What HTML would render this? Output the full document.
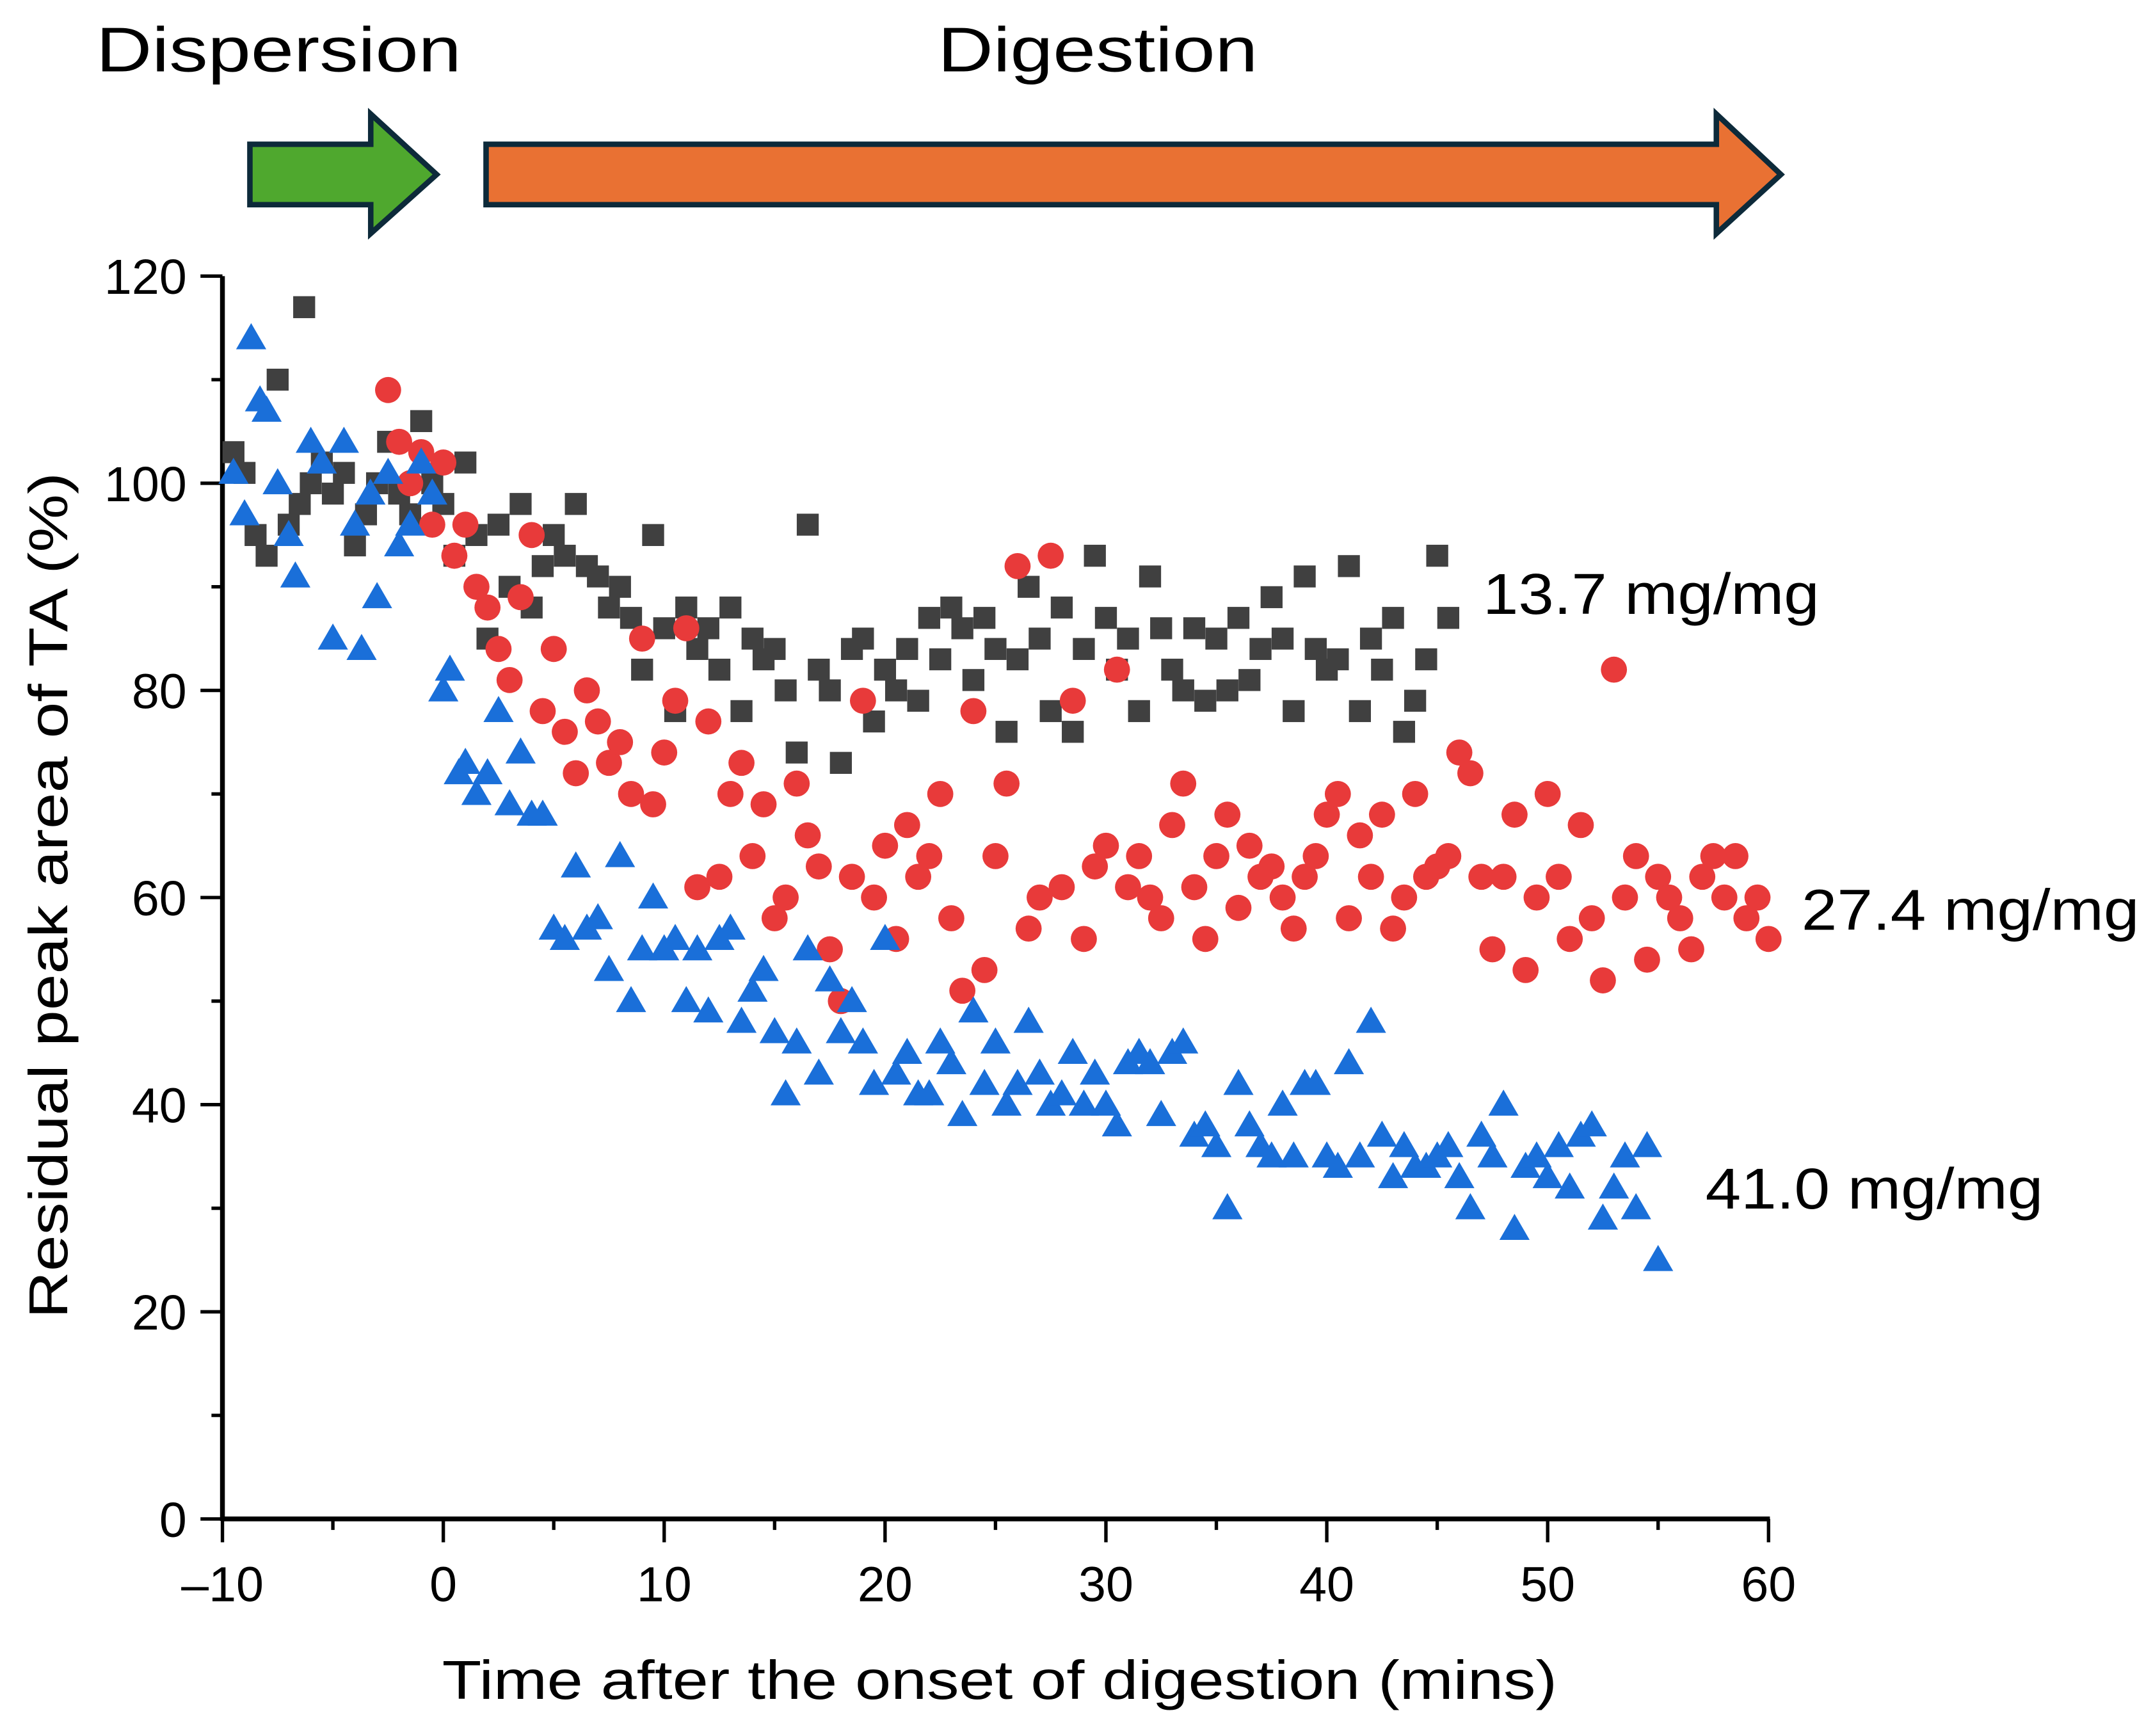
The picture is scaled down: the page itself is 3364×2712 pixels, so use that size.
<!DOCTYPE html>
<html><head><meta charset="utf-8"><style>
html,body{margin:0;padding:0;background:#fff}
svg{display:block}
text{font-family:"Liberation Sans",Arial,sans-serif;fill:#000}
</style></head><body>
<svg id="chart" width="3364" height="2712" viewBox="0 0 1568 1264" xmlns="http://www.w3.org/2000/svg">
<rect width="1568" height="1264" fill="#fff"/>
<text x="70" y="52" font-size="46" textLength="266" lengthAdjust="spacingAndGlyphs">Dispersion</text>
<text x="683" y="52" font-size="46" textLength="233" lengthAdjust="spacingAndGlyphs">Digestion</text>
<polygon points="182,105 270,105 270,83 318,127 270,170 270,149 182,149" fill="#4fa82e" stroke="#0d2a3a" stroke-width="4" stroke-linejoin="miter"/>
<polygon points="354,105 1250,105 1250,83 1297,127 1250,170 1250,149 354,149" fill="#e97133" stroke="#0d2a3a" stroke-width="4"/>
<g id="axes"></g>
<g id="marks"></g>
<text x="728" y="1237" font-size="40" text-anchor="middle" textLength="812" lengthAdjust="spacingAndGlyphs">Time after the onset of digestion (mins)</text>
<text transform="translate(49,652) rotate(-90)" font-size="40" text-anchor="middle" textLength="616" lengthAdjust="spacingAndGlyphs">Residual peak area of TA (%)</text>
<text x="1080" y="447" font-size="42" textLength="245" lengthAdjust="spacingAndGlyphs">13.7 mg/mg</text>
<text x="1312" y="677" font-size="42" textLength="246" lengthAdjust="spacingAndGlyphs">27.4 mg/mg</text>
<text x="1242" y="880" font-size="42" textLength="246" lengthAdjust="spacingAndGlyphs">41.0 mg/mg</text>
</svg>
<script>
const xTicks=[-10,0,10,20,30,40,50,60];
const xTickLabels=["\u201310","0","10","20","30","40","50","60"];
const yTicks=[0,20,40,60,80,100,120];
const blackX=[-9.5,-9,-8.5,-8,-7.5,-7,-6.5,-6.3,-6,-5.5,-5,-4.5,-4,-3.5,-3,-2.5,-2,-1.5,-1,-0.5,0,0.5,1,1.5,2,2.5,3,3.5,4,4.5,5,5.5,6,6.5,7,7.5,8,8.5,9,9.5,10,10.5,11,11.5,12,12.5,13,13.5,14,14.5,15,15.5,16,16.5,17,17.5,18,18.5,19,19.5,20,20.5,21,21.5,22,22.5,23,23.5,24,24.5,25,25.5,26,26.5,27,27.5,28,28.5,29,29.5,30,30.5,31,31.5,32,32.5,33,33.5,34,34.5,35,35.5,36,36.5,37,37.5,38,38.5,39,39.5,40,40.5,41,41.5,42,42.5,43,43.5,44,44.5,45,45.5];
const blackY=[103,101,95,93,110,96,98,117,100,102,99,101,94,97,100,104,99,97,106,100,98,93,102,95,85,96,90,98,88,92,95,93,98,92,91,88,90,87,82,95,86,78,88,84,86,82,88,78,85,83,84,80,74,96,82,80,73,84,85,77,82,80,84,79,87,83,88,86,81,87,84,76,83,90,85,78,88,76,84,93,87,82,85,78,91,86,82,80,86,79,85,80,87,81,84,89,85,78,91,84,82,83,92,78,85,82,87,76,79,83,93,87];
const redX=[-2.5,-2,-1.5,-1,-0.5,0,0.5,1,1.5,2,2.5,3,3.5,4,4.5,5,5.5,6,6.5,7,7.5,8,8.5,9,9.5,10,10.5,11,11.5,12,12.5,13,13.5,14,14.5,15,15.5,16,16.5,17,17.5,18,18.5,19,19.5,20,20.5,21,21.5,22,22.5,23,23.5,24,24.5,25,25.5,26,26.5,27,27.5,28,28.5,29,29.5,30,30.5,31,31.5,32,32.5,33,33.5,34,34.5,35,35.5,36,36.5,37,37.5,38,38.5,39,39.5,40,40.5,41,41.5,42,42.5,43,43.5,44,44.5,45,45.5,46,46.5,47,47.5,48,48.5,49,49.5,50,50.5,51,51.5,52,52.5,53,53.5,54,54.5,55,55.5,56,56.5,57,57.5,58,58.5,59,59.5,60];
const redY=[109,104,100,103,96,102,93,96,90,88,84,81,89,95,78,84,76,72,80,77,73,75,70,85,69,74,79,86,61,77,62,70,73,64,69,58,60,71,66,63,55,50,62,79,60,65,56,67,62,64,70,58,51,78,53,64,71,92,57,60,93,61,79,56,63,65,82,61,64,60,58,67,71,61,56,64,68,59,65,62,63,60,57,62,64,68,70,58,66,62,68,57,60,70,62,63,64,74,72,62,55,62,68,53,60,70,62,56,67,58,52,82,60,64,54,62,60,58,55,62,64,60,64,58,60,56];
const blueX=[-9.5,-9,-8.7,-8.3,-8,-7.5,-7,-6.7,-6,-5.5,-5,-4.5,-4,-3.7,-3.3,-3,-2.5,-2,-1.5,-1,-0.5,0,0.3,0.7,1,1.5,2,2.5,3,3.5,4,4.5,5,5.5,6,6.5,7,7.5,8,8.5,9,9.5,10,10.5,11,11.5,12,12.5,13,13.5,14,14.5,15,15.5,16,16.5,17,17.5,18,18.5,19,19.5,20,20.5,21,21.5,22,22.5,23,23.5,24,24.5,25,25.5,26,26.5,27,27.5,28,28.5,29,29.5,30,30.5,31,31.5,32,32.5,33,33.5,34,34.5,35,35.5,36,36.5,37,37.5,38,38.5,39,39.5,40,40.5,41,41.5,42,42.5,43,43.5,44,44.5,45,45.5,46,46.5,47,47.5,48,48.5,49,49.5,50,50.5,51,51.5,52,52.5,53,53.5,54,54.5,55];
const blueY=[101,97,114,108,107,100,95,91,104,102,85,104,96,84,99,89,101,94,96,102,99,80,82,72,73,70,72,78,69,74,68,68,57,56,63,57,58,53,64,50,55,60,55,56,50,55,49,56,57,48,51,53,47,41,46,55,43,52,47,50,46,42,56,43,45,41,41,46,44,39,49,42,46,40,42,48,43,40,41,45,40,43,40,38,44,45,44,39,45,46,37,38,36,30,42,38,36,35,40,35,42,42,35,34,44,35,48,37,33,36,34,34,35,36,33,30,37,35,40,28,34,35,33,36,32,37,38,29,32,35,30,36,25];
const NS="http://www.w3.org/2000/svg";
const X0=162,X1=1288,Y0=1106,Y1=201;
function sx(t){return X0+(t+10)*(X1-X0)/70;}
function sy(v){return Y0-v*(Y0-Y1)/120;}
function mk(tag,attrs,parent){const e=document.createElementNS(NS,tag);for(const k in attrs)e.setAttribute(k,attrs[k]);parent.appendChild(e);return e;}
const axes=document.getElementById('axes');
const marks=document.getElementById('marks');
for(let v=0;v<=120;v+=10){
  const major=v%20===0;
  const t=mk('line',{x1:major?146:154,x2:X0,y1:sy(v),y2:sy(v),stroke:'#000','stroke-width':2.5},axes);
  
  
}
yTicks.forEach(v=>{
  const l=mk('text',{x:136,y:sy(v)+13,'font-size':36,'text-anchor':'end'},axes);
  l.textContent=String(v);
  
  
});
for(let t=-10;t<=60;t+=5){
  const major=t%10===0;
  const tk=mk('line',{x1:sx(t),x2:sx(t),y1:Y0,y2:major?1123:1114,stroke:'#000','stroke-width':2.5},axes);
  
  
}
xTicks.forEach((t,i)=>{
  const l=mk('text',{x:sx(t),y:1166,'font-size':36,'text-anchor':'middle'},axes);
  l.textContent=xTickLabels[i];
  
  
});
const ya=mk('line',{x1:X0,x2:X0,y1:Y1,y2:Y0+1.5,stroke:'#000','stroke-width':3.5},axes);


const xa=mk('line',{x1:X0,x2:X1+1,y1:Y0,y2:Y0,stroke:'#000','stroke-width':3.5},axes);


blackX.forEach((t,i)=>{
  const e=mk('rect',{x:sx(t)-8,y:sy(blackY[i])-8,width:16,height:16,fill:'#404040'},marks);
  
  
});
redX.forEach((t,i)=>{
  const e=mk('circle',{cx:sx(t),cy:sy(redY[i]),r:9.5,fill:'#e83a3a'},marks);
  
  
});
blueX.forEach((t,i)=>{
  const cx=sx(t),cy=sy(blueY[i]);
  const e=mk('polygon',{points:`${cx-11},${cy+8} ${cx+11},${cy+8} ${cx},${cy-11}`,fill:'#1a6fd9'},marks);
  
  
});
</script>
</body></html>
